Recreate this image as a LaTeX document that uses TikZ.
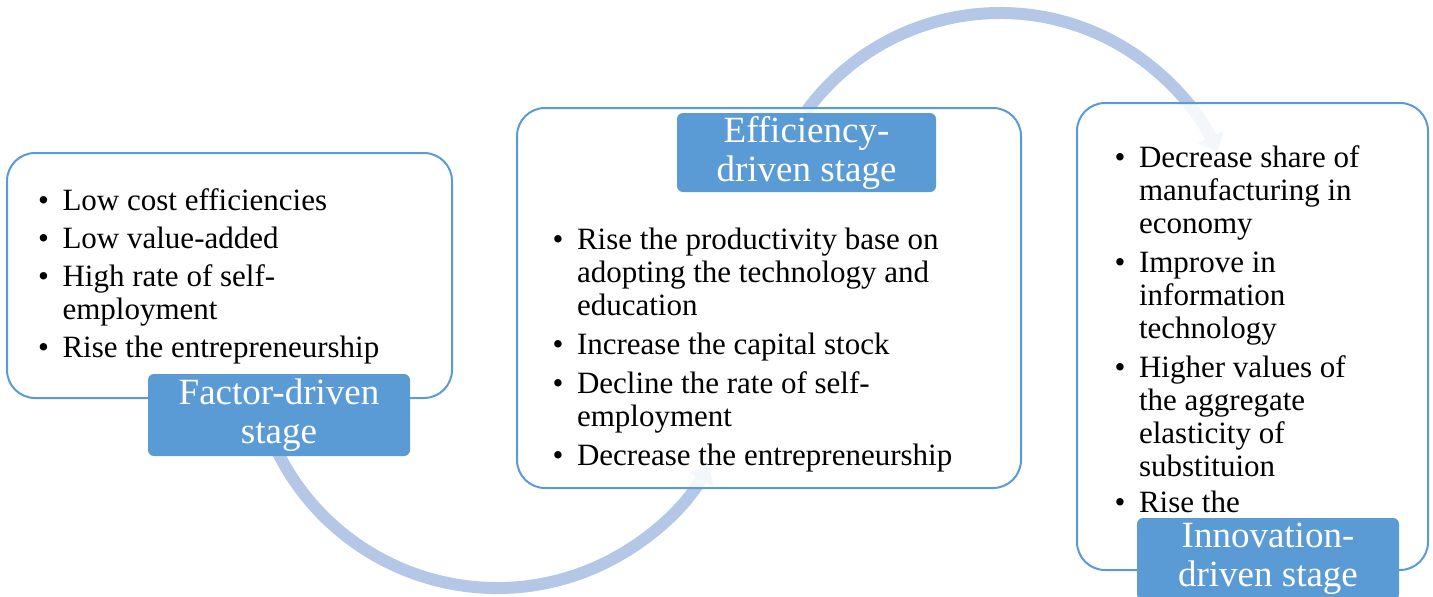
\documentclass[tikz,border=0pt]{standalone}
\usepackage{fontspec}
\setmainfont{Liberation Serif}
\usepackage{tikz}
\usetikzlibrary{arrows.meta, calc}
\definecolor{stageblue}{HTML}{5B9BD5}
\definecolor{cyclelight}{HTML}{B4C7E7}

\tikzset{
	stagebox/.style={draw=stageblue, line width=2pt, fill=white, fill opacity=0.85,
		rounded corners=28pt, inner sep=0pt},
	stagelabel/.style={fill=stageblue, text=white, rounded corners=6pt, align=center,
		inner sep=0pt, font=\fontsize{37}{39}\selectfont},
	bulletlist/.style={anchor=north west, inner sep=0pt, font=\fontsize{31}{33}\selectfont},
	cyclearrow/.style={cyclelight, line width=12pt, -{Triangle[width=27pt,length=16pt]}}
}
\newcommand{\bul}{\textbullet\hspace{13.5pt}}

\begin{document}
\begin{tikzpicture}[x=1pt, y=1pt]
	\useasboundingbox (0,0) rectangle (1433,-597);
	\clip (0,0) rectangle (1433,-597);
	% cycle arrows behind the boxes
	\coordinate (lowc) at (497,-343);
	\coordinate (upc) at (1000,-253);
	\draw[cyclearrow] ($(lowc)+(205:245)$) arc[start angle=205, end angle=330, radius=245];
	\draw[cyclearrow] ($(upc)+(144:240)$) arc[start angle=144, end angle=25, radius=240];
	% stage boxes
	\node[stagebox, minimum width=445, minimum height=245] (factorbox) at (229.5,-275.5) {};
	\node[stagebox, minimum width=504, minimum height=380] (effbox) at (769,-298) {};
	\node[stagebox, minimum width=351, minimum height=467] (innobox) at (1252.5,-336.5) {};
	% bullet lists
	\node[bulletlist] (factorlist) at (38,-187) {%
		\begin{tabular}{@{}l@{}}
			\bul Low cost efficiencies\\[5pt]
			\bul Low value-added\\[5pt]
			\bul High rate of self-\\
			\phantom{\bul}employment\\[5pt]
			\bul Rise the entrepreneurship
		\end{tabular}};
	\node[bulletlist] (efflist) at (552.5,-226) {%
		\begin{tabular}{@{}l@{}}
			\bul Rise the productivity base on\\
			\phantom{\bul}adopting the technology and\\
			\phantom{\bul}education\\[6pt]
			\bul Increase the capital stock\\[6pt]
			\bul Decline the rate of self-\\
			\phantom{\bul}employment\\[6pt]
			\bul Decrease the entrepreneurship
		\end{tabular}};
	\node[bulletlist] (innolist) at (1114.5,-144) {%
		\begin{tabular}{@{}l@{}}
			\bul Decrease share of\\
			\phantom{\bul}manufacturing in\\
			\phantom{\bul}economy\\[6pt]
			\bul Improve in\\
			\phantom{\bul}information\\
			\phantom{\bul}technology\\[6pt]
			\bul Higher values of\\
			\phantom{\bul}the aggregate\\
			\phantom{\bul}elasticity of\\
			\phantom{\bul}substituion\\[3pt]
			\bul Rise the
		\end{tabular}};
	% stage labels
	\node[stagelabel, minimum width=262, minimum height=82] (factorlabel) at (279,-415) {Factor-driven\\stage};
	\node[stagelabel, minimum width=259, minimum height=79] (efflabel) at (806.5,-152.5) {Efficiency-\\driven stage};
	\node[stagelabel, minimum width=262, minimum height=82] (innolabel) at (1268,-559) {Innovation-\\driven stage};
\end{tikzpicture}
\end{document}
